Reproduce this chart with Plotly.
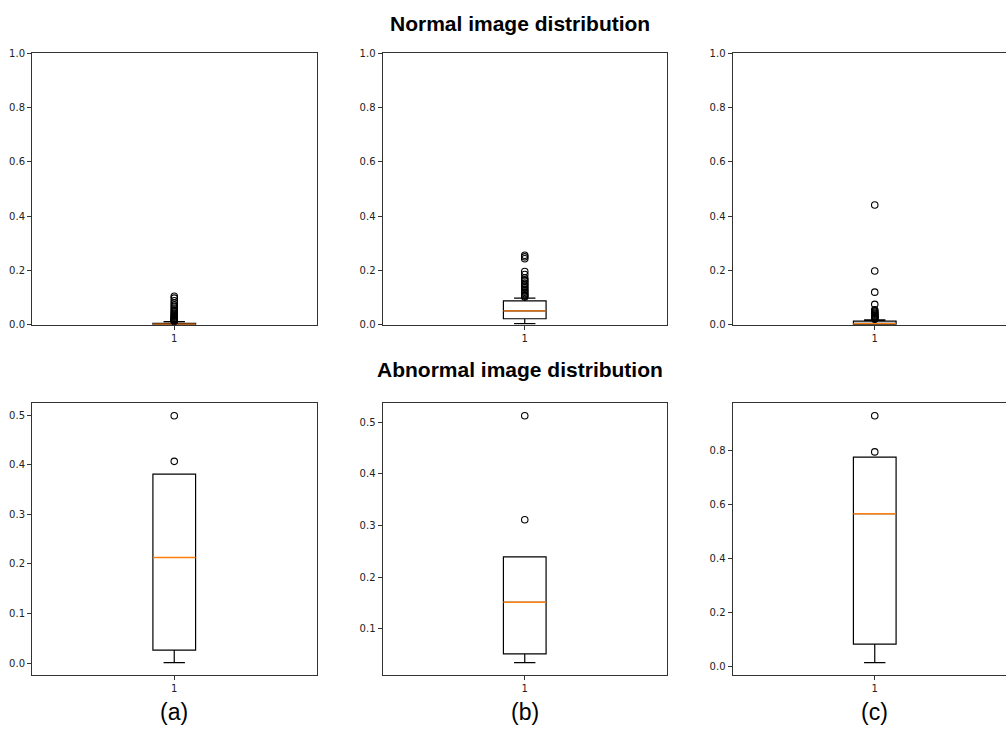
import plotly.graph_objects as go

# ---------------- data ----------------
row_titles = ["Normal image distribution", "Abnormal image distribution"]
panel_labels = ["(a)", "(b)", "(c)"]
box_position = 1

# order: normal (a), (b), (c), abnormal (a), (b), (c)
q1_vals     = [0.0005, 0.022, 0.001, 0.026, 0.051, 0.083]
median_vals = [0.002, 0.051, 0.004, 0.213, 0.151, 0.566]
q3_vals     = [0.005, 0.088, 0.013, 0.381, 0.239, 0.776]
lower_vals  = [0.0, 0.004, 0.0, 0.001, 0.034, 0.015]
upper_vals  = [0.011, 0.098, 0.018, 0.381, 0.239, 0.776]

outliers_normal_a = [0.105, 0.098, 0.088, 0.080, 0.072, 0.065, 0.058, 0.052, 0.047,
                     0.042, 0.038, 0.034, 0.031, 0.028, 0.025, 0.022, 0.020, 0.018,
                     0.016, 0.014, 0.012]
outliers_normal_b = [0.256, 0.250, 0.243, 0.196, 0.185, 0.172, 0.165, 0.160, 0.153,
                     0.148, 0.142, 0.136, 0.130, 0.125, 0.120, 0.115, 0.110, 0.106,
                     0.102]
outliers_normal_c = [0.441, 0.198, 0.120, 0.075, 0.055, 0.050, 0.046, 0.042, 0.039,
                     0.036, 0.033, 0.030, 0.028, 0.026, 0.024, 0.022, 0.020]
outliers_abnormal_a = [0.499, 0.407]
outliers_abnormal_b = [0.513, 0.311]
outliers_abnormal_c = [0.929, 0.795]
outliers = [outliers_normal_a, outliers_normal_b, outliers_normal_c,
            outliers_abnormal_a, outliers_abnormal_b, outliers_abnormal_c]

top_ticks = [0.0, 0.2, 0.4, 0.6, 0.8, 1.0]
bottom_ticks = [[0.0, 0.1, 0.2, 0.3, 0.4, 0.5],
                [0.1, 0.2, 0.3, 0.4, 0.5],
                [0.0, 0.2, 0.4, 0.6, 0.8]]

# ---------------- layout geometry (pixels) ----------------
W, H = 1006, 734
BOX_W = 0.15
col_left = [32.0, 382.5, 732.5]
col_w = 284.5
row_top = [48.0, 404.0]
row_h = 276.0

fig = go.Figure()
layout = dict(
    width=W, height=H, autosize=False,
    margin=dict(l=0, r=0, t=0, b=0),
    paper_bgcolor="white", plot_bgcolor="white",
    showlegend=False,
)

axis_color = "#333333"
tick_font = dict(family="DejaVu Sans", size=10, color="#222222")

for i in range(6):
    r, c = divmod(i, 3)
    n = i + 1
    xa = "x" if n == 1 else f"x{n}"
    ya = "y" if n == 1 else f"y{n}"

    # box (no fill)
    fig.add_trace(go.Box(
        x=[box_position], q1=[q1_vals[i]], median=[median_vals[i]], q3=[q3_vals[i]],
        lowerfence=[lower_vals[i]], upperfence=[upper_vals[i]],
        width=BOX_W, whiskerwidth=0.5, boxpoints=False,
        fillcolor="rgba(0,0,0,0)", line=dict(color="black", width=1.2),
        xaxis=xa, yaxis=ya, hoverinfo="skip",
    ))
    # orange median line
    fig.add_trace(go.Scatter(
        x=[box_position - BOX_W / 2, box_position + BOX_W / 2],
        y=[median_vals[i], median_vals[i]],
        mode="lines", line=dict(color="#ff7f0e", width=1.4),
        xaxis=xa, yaxis=ya, hoverinfo="skip",
    ))
    # outliers
    fig.add_trace(go.Scatter(
        x=[box_position] * len(outliers[i]), y=outliers[i],
        mode="markers",
        marker=dict(symbol="circle-open", size=6.5, color="black", line=dict(width=1.1)),
        xaxis=xa, yaxis=ya, hoverinfo="skip",
    ))

    left = col_left[c]
    right = min(left + col_w, W)
    x0 = left / W
    x1 = right / W
    xr0 = 0.5
    xr1 = 0.5 + (right - left) / col_w

    y_top = row_top[r]
    y0 = 1 - (y_top + row_h) / H
    y1 = 1 - y_top / H

    if r == 0:
        yrange = [0.0, 1.0]
        ticks = top_ticks
    else:
        vals = [lower_vals[i], upper_vals[i], q1_vals[i], q3_vals[i]] + outliers[i]
        lo, hi = min(vals), max(vals)
        d = hi - lo
        yrange = [lo - 0.05 * d, hi + 0.05 * d]
        ticks = bottom_ticks[c]

    clipped = right < left + col_w - 1
    layout["xaxis" if n == 1 else f"xaxis{n}"] = dict(
        domain=[x0, x1], range=[xr0, xr1], anchor=ya, type="linear",
        tickmode="array", tickvals=[box_position], ticktext=["1"],
        ticks="outside", ticklen=4, tickwidth=1, tickcolor=axis_color,
        showline=True, linecolor=axis_color, linewidth=1, mirror=True,
        showgrid=False, zeroline=False, tickfont=tick_font, fixedrange=True,
    )
    layout["yaxis" if n == 1 else f"yaxis{n}"] = dict(
        domain=[y0, y1], range=yrange, anchor=xa,
        tickmode="array", tickvals=ticks, ticktext=[f"{t:.1f}" for t in ticks],
        ticks="outside", ticklen=4, tickwidth=1, tickcolor=axis_color,
        showline=True, linecolor=axis_color, linewidth=1, mirror=(not clipped),
        showgrid=False, zeroline=False, tickfont=tick_font, fixedrange=True,
    )

annotations = [
    dict(text=f"<b>{row_titles[0]}</b>", x=519.5 / W, y=1 - 18 / H, xref="paper", yref="paper",
         showarrow=False, font=dict(family="Liberation Sans", size=21, color="black"),
         xanchor="center", yanchor="middle"),
    dict(text=f"<b>{row_titles[1]}</b>", x=519.5 / W, y=1 - 370 / H, xref="paper", yref="paper",
         showarrow=False, font=dict(family="Liberation Sans", size=21, color="black"),
         xanchor="center", yanchor="middle"),
]
for c, lab in enumerate(panel_labels):
    annotations.append(dict(
        text=lab, x=(col_left[c] + col_w / 2) / W, y=1 - 718 / H, xref="paper", yref="paper",
        showarrow=False, font=dict(family="Liberation Sans", size=23, color="black"),
        xanchor="center", yanchor="middle"))
layout["annotations"] = annotations

fig.update_layout(**layout)
fig.write_html(
    "out.html",
    config={"displayModeBar": False},
    post_script=(
        "document.body.style.margin='0';"
        "document.documentElement.style.overflow='hidden';"
        "var gd=document.getElementById('{plot_id}');"
        "gd.style.position='fixed';gd.style.left='0px';gd.style.top='0px';"
    ),
)
